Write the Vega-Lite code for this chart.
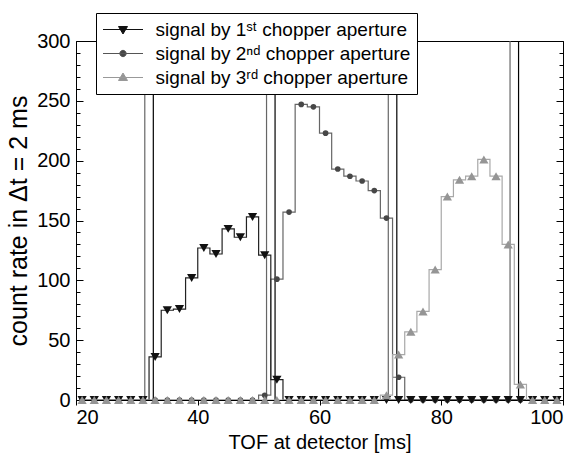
{
 "$schema": "https://vega.github.io/schema/vega-lite/v6.json",
 "width": 487, "height": 359,
 "autosize": "none",
 "padding": {"left": 76, "top": 41, "right": 18, "bottom": 59},
 "background": "white",
 "config": {
  "view": {"stroke": "black", "strokeWidth": 1},
  "font": "Liberation Sans",
  "axis": {"labelFont": "Liberation Sans", "titleFont": "Liberation Sans", "labelFontSize": 20, "titleFontSize": 20, "titleFontWeight": "normal", "labelColor": "black", "titleColor": "black", "domainColor": "black", "tickColor": "black", "grid": false, "domainWidth": 1, "tickWidth": 1},
  "legend": {"title": null, "orient": "none", "legendX": 20, "legendY": -28, "direction": "vertical", "columns": 1,
    "labelFont": "Liberation Sans", "labelFontSize": 19, "labelColor": "black", "labelLimit": 400,
    "labelOffset": 22, "symbolOffset": 10.5, "symbolSize": 400, "symbolStrokeWidth": 1,
    "rowPadding": 3, "padding": 6, "strokeColor": "black", "fillColor": "white", "cornerRadius": 0}
 },
 "datasets": {
  "chop": [
   {"t": 31.3, "k": "a"}, {"t": 51.3, "k": "a"}, {"t": 71.3, "k": "a"}, {"t": 91.3, "k": "a"},
   {"t": 32.7, "k": "b"}, {"t": 52.7, "k": "b"}, {"t": 72.7, "k": "b"}, {"t": 92.7, "k": "b"}
  ],
  "sig": [
   {"t":21,"c":0,"s":"1"},{"t":23,"c":0,"s":"1"},{"t":25,"c":0,"s":"1"},{"t":27,"c":0,"s":"1"},{"t":29,"c":0,"s":"1"},{"t":31,"c":0,"s":"1"},
   {"t":33,"c":36,"s":"1"},{"t":35,"c":75,"s":"1"},{"t":37,"c":76,"s":"1"},{"t":39,"c":102,"s":"1"},{"t":41,"c":127,"s":"1"},{"t":43,"c":122,"s":"1"},
   {"t":45,"c":143,"s":"1"},{"t":47,"c":136,"s":"1"},{"t":49,"c":153,"s":"1"},{"t":51,"c":121,"s":"1"},{"t":53,"c":17,"s":"1"},
   {"t":55,"c":0,"s":"1"},{"t":57,"c":0,"s":"1"},{"t":59,"c":0,"s":"1"},{"t":61,"c":0,"s":"1"},{"t":63,"c":0,"s":"1"},{"t":65,"c":0,"s":"1"},
   {"t":67,"c":0,"s":"1"},{"t":69,"c":0,"s":"1"},{"t":71,"c":0,"s":"1"},{"t":73,"c":0,"s":"1"},{"t":75,"c":0,"s":"1"},{"t":77,"c":0,"s":"1"},
   {"t":79,"c":0,"s":"1"},{"t":81,"c":0,"s":"1"},{"t":83,"c":0,"s":"1"},{"t":85,"c":0,"s":"1"},{"t":87,"c":0,"s":"1"},{"t":89,"c":0,"s":"1"},
   {"t":91,"c":0,"s":"1"},{"t":93,"c":0,"s":"1"},{"t":95,"c":0,"s":"1"},{"t":97,"c":0,"s":"1"},{"t":99,"c":0,"s":"1"},

   {"t":21,"c":0,"s":"2"},{"t":23,"c":0,"s":"2"},{"t":25,"c":0,"s":"2"},{"t":27,"c":0,"s":"2"},{"t":29,"c":0,"s":"2"},{"t":31,"c":0,"s":"2"},
   {"t":33,"c":0,"s":"2"},{"t":35,"c":0,"s":"2"},{"t":37,"c":0,"s":"2"},{"t":39,"c":0,"s":"2"},{"t":41,"c":0,"s":"2"},{"t":43,"c":0,"s":"2"},
   {"t":45,"c":0,"s":"2"},{"t":47,"c":0,"s":"2"},{"t":49,"c":0,"s":"2"},{"t":51,"c":4,"s":"2"},{"t":53,"c":101,"s":"2"},{"t":55,"c":157,"s":"2"},
   {"t":57,"c":247,"s":"2"},{"t":59,"c":245,"s":"2"},{"t":61,"c":223,"s":"2"},{"t":63,"c":193,"s":"2"},{"t":65,"c":187,"s":"2"},{"t":67,"c":183,"s":"2"},
   {"t":69,"c":175,"s":"2"},{"t":71,"c":152,"s":"2"},{"t":73,"c":19,"s":"2"},{"t":75,"c":0,"s":"2"},{"t":77,"c":0,"s":"2"},{"t":79,"c":0,"s":"2"},
   {"t":81,"c":0,"s":"2"},{"t":83,"c":0,"s":"2"},{"t":85,"c":0,"s":"2"},{"t":87,"c":0,"s":"2"},{"t":89,"c":0,"s":"2"},{"t":91,"c":0,"s":"2"},
   {"t":93,"c":0,"s":"2"},{"t":95,"c":0,"s":"2"},{"t":97,"c":0,"s":"2"},{"t":99,"c":0,"s":"2"},

   {"t":21,"c":0,"s":"3"},{"t":23,"c":0,"s":"3"},{"t":25,"c":0,"s":"3"},{"t":27,"c":0,"s":"3"},{"t":29,"c":0,"s":"3"},{"t":31,"c":0,"s":"3"},
   {"t":33,"c":0,"s":"3"},{"t":35,"c":0,"s":"3"},{"t":37,"c":0,"s":"3"},{"t":39,"c":0,"s":"3"},{"t":41,"c":0,"s":"3"},{"t":43,"c":0,"s":"3"},
   {"t":45,"c":0,"s":"3"},{"t":47,"c":0,"s":"3"},{"t":49,"c":0,"s":"3"},{"t":51,"c":0,"s":"3"},{"t":53,"c":0,"s":"3"},{"t":55,"c":0,"s":"3"},
   {"t":57,"c":0,"s":"3"},{"t":59,"c":0,"s":"3"},{"t":61,"c":0,"s":"3"},{"t":63,"c":0,"s":"3"},{"t":65,"c":0,"s":"3"},{"t":67,"c":0,"s":"3"},
   {"t":69,"c":0,"s":"3"},{"t":71,"c":4,"s":"3"},{"t":73,"c":38,"s":"3"},{"t":75,"c":57,"s":"3"},{"t":77,"c":74,"s":"3"},{"t":79,"c":109,"s":"3"},
   {"t":81,"c":170,"s":"3"},{"t":83,"c":184,"s":"3"},{"t":85,"c":187,"s":"3"},{"t":87,"c":201,"s":"3"},{"t":89,"c":187,"s":"3"},{"t":91,"c":130,"s":"3"},
   {"t":93,"c":13,"s":"3"},{"t":95,"c":0,"s":"3"},{"t":97,"c":0,"s":"3"},{"t":99,"c":0,"s":"3"}
  ]
 },
 "layer": [
  {
   "data": {"name": "chop"},
   "transform": [{"filter": "datum.k == 'a'"}],
   "mark": {"type": "rule", "color": "#666666", "strokeWidth": 1.2, "clip": true},
   "encoding": {
    "x": {"field": "t", "type": "quantitative", "scale": {"domain": [20, 100], "nice": false, "zero": false},
          "axis": {"title": "TOF at detector [ms]", "values": [20, 40, 60, 80, 100], "tickSize": 5, "labelPadding": 2, "titlePadding": 5}},
    "y": {"datum": 0, "type": "quantitative", "scale": {"domain": [0, 300], "nice": false, "zero": false},
          "axis": {"orient": "left", "title": "count rate in Δt = 2 ms", "titleFontSize": 25, "values": [0, 50, 100, 150, 200, 250, 300], "tickSize": -7, "labelPadding": 13, "titlePadding": 5}},
    "y2": {"datum": 300}
   }
  },
  {
   "data": {"name": "chop"},
   "transform": [{"filter": "datum.k == 'b'"}],
   "mark": {"type": "rule", "color": "#000000", "strokeWidth": 1.2, "clip": true},
   "encoding": {
    "x": {"field": "t", "type": "quantitative", "scale": {"domain": [20, 100], "nice": false, "zero": false}},
    "y": {"datum": 0, "type": "quantitative", "scale": {"domain": [0, 300], "nice": false, "zero": false},
          "axis": {"orient": "right", "title": null, "labels": false, "values": [0, 50, 100, 150, 200, 250, 300], "tickSize": -7}},
    "y2": {"datum": 300}
   }
  },
  {
   "data": {"name": "sig"},
   "transform": [{"filter": "datum.s == '2'"}],
   "mark": {"type": "line", "interpolate": "step", "stroke": "#666666", "strokeWidth": 1.2, "clip": true},
   "encoding": {
    "x": {"field": "t", "type": "quantitative", "scale": {"domain": [20, 100], "nice": false, "zero": false}},
    "y": {"field": "c", "type": "quantitative", "scale": {"domain": [0, 300], "nice": false, "zero": false},
          "axis": {"orient": "left", "title": null, "labels": false, "domain": false, "values": [10, 20, 30, 40, 60, 70, 80, 90, 110, 120, 130, 140, 160, 170, 180, 190, 210, 220, 230, 240, 260, 270, 280, 290], "tickSize": -4}}
   }
  },
  {
   "data": {"name": "sig"},
   "transform": [{"filter": "datum.s == '2'"}],
   "mark": {"type": "point", "shape": "circle", "filled": true, "size": 32, "opacity": 1, "color": "#474747", "clip": false},
   "encoding": {
    "x": {"field": "t", "type": "quantitative", "scale": {"domain": [20, 100], "nice": false, "zero": false}},
    "y": {"field": "c", "type": "quantitative", "scale": {"domain": [0, 300], "nice": false, "zero": false},
          "axis": {"orient": "right", "title": null, "labels": false, "domain": false, "values": [10, 20, 30, 40, 60, 70, 80, 90, 110, 120, 130, 140, 160, 170, 180, 190, 210, 220, 230, 240, 260, 270, 280, 290], "tickSize": -4}}
   }
  },
  {
   "data": {"name": "sig"},
   "transform": [{"filter": "datum.s == '1'"}],
   "mark": {"type": "line", "interpolate": "step", "stroke": "#222222", "strokeWidth": 1.2, "clip": true},
   "encoding": {
    "x": {"field": "t", "type": "quantitative", "scale": {"domain": [20, 100], "nice": false, "zero": false}},
    "y": {"field": "c", "type": "quantitative", "scale": {"domain": [0, 300], "nice": false, "zero": false}, "axis": null}
   }
  },
  {
   "data": {"name": "sig"},
   "transform": [{"filter": "datum.s == '1'"}],
   "mark": {"type": "point", "shape": "triangle-down", "filled": true, "size": 85, "opacity": 1, "color": "#111111", "clip": false},
   "encoding": {
    "x": {"field": "t", "type": "quantitative", "scale": {"domain": [20, 100], "nice": false, "zero": false}},
    "y": {"field": "c", "type": "quantitative", "scale": {"domain": [0, 300], "nice": false, "zero": false}, "axis": null}
   }
  },
  {
   "data": {"name": "sig"},
   "transform": [{"filter": "datum.s == '3'"}],
   "mark": {"type": "line", "interpolate": "step", "stroke": "#a8a8a8", "strokeWidth": 1.2, "clip": true},
   "encoding": {
    "x": {"field": "t", "type": "quantitative", "scale": {"domain": [20, 100], "nice": false, "zero": false}},
    "y": {"field": "c", "type": "quantitative", "scale": {"domain": [0, 300], "nice": false, "zero": false}, "axis": null}
   }
  },
  {
   "data": {"name": "sig"},
   "transform": [{"filter": "datum.s == '3'"}],
   "mark": {"type": "point", "shape": "triangle-up", "filled": true, "size": 85, "opacity": 1, "color": "#959595", "clip": false},
   "encoding": {
    "x": {"field": "t", "type": "quantitative", "scale": {"domain": [20, 100], "nice": false, "zero": false}},
    "y": {"field": "c", "type": "quantitative", "scale": {"domain": [0, 300], "nice": false, "zero": false}, "axis": null}
   }
  },
  {
   "data": {"name": "sig"},
   "transform": [{"filter": "datum.s == 'none'"}],
   "mark": {"type": "point", "filled": true, "opacity": 1, "strokeWidth": 1, "clip": true},
   "encoding": {
    "x": {"field": "t", "type": "quantitative", "scale": {"domain": [20, 100], "nice": false, "zero": false}},
    "y": {"field": "c", "type": "quantitative", "scale": {"domain": [0, 300], "nice": false, "zero": false}, "axis": null},
    "shape": {"field": "s", "type": "nominal",
      "scale": {"domain": ["1", "2", "3"], "range": [
        "M-0.45,-0.3L0.45,-0.3L0,0.45ZM-2,0L2,0",
        "M0.32,0L0.277,0.16L0.16,0.277L0,0.32L-0.16,0.277L-0.277,0.16L-0.32,0L-0.277,-0.16L-0.16,-0.277L0,-0.32L0.16,-0.277L0.277,-0.16ZM-2,0L2,0",
        "M-0.45,0.3L0.45,0.3L0,-0.45ZM-2,0L2,0"]},
      "legend": {"symbolSize": 400, "symbolOffset": 10.5, "labelOffset": 22, "rowPadding": 3, "labelExpr": "datum.value == '1' ? 'signal by 1ˢᵗ chopper aperture' : datum.value == '2' ? 'signal by 2ⁿᵈ chopper aperture' : 'signal by 3ʳᵈ chopper aperture'"}},
    "fill": {"field": "s", "type": "nominal", "scale": {"domain": ["1", "2", "3"], "range": ["#111111", "#474747", "#959595"]},
      "legend": {"symbolSize": 400, "symbolOffset": 10.5, "labelOffset": 22, "rowPadding": 3, "labelExpr": "datum.value == '1' ? 'signal by 1ˢᵗ chopper aperture' : datum.value == '2' ? 'signal by 2ⁿᵈ chopper aperture' : 'signal by 3ʳᵈ chopper aperture'"}},
    "stroke": {"field": "s", "type": "nominal", "scale": {"domain": ["1", "2", "3"], "range": ["#111111", "#555555", "#999999"]},
      "legend": {"symbolSize": 400, "symbolOffset": 10.5, "labelOffset": 22, "rowPadding": 3, "labelExpr": "datum.value == '1' ? 'signal by 1ˢᵗ chopper aperture' : datum.value == '2' ? 'signal by 2ⁿᵈ chopper aperture' : 'signal by 3ʳᵈ chopper aperture'"}}
   }
  }
 ],
 "resolve": {"axis": {"y": "independent"}}
}
